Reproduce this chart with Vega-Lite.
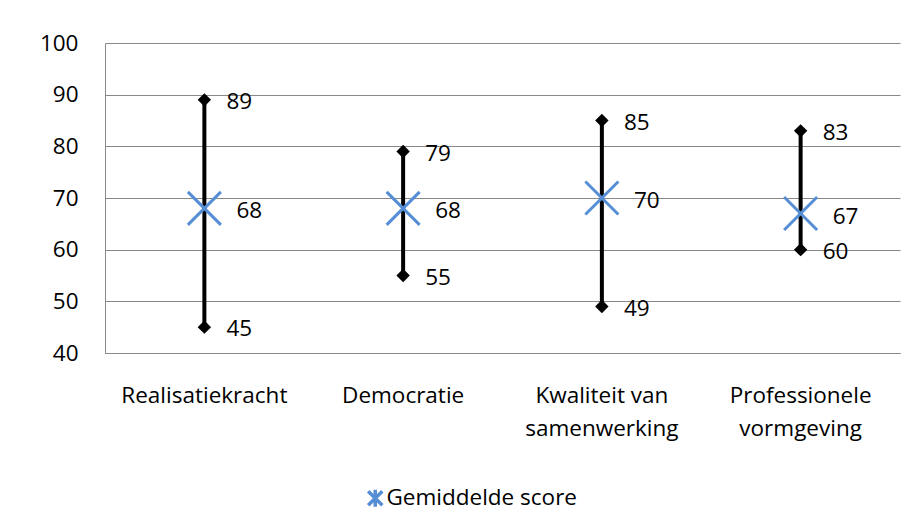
{
  "$schema": "https://vega.github.io/schema/vega-lite/v6.json",
  "autosize": "none",
  "width": 795,
  "height": 310,
  "padding": {"left": 105, "top": 43, "right": 15, "bottom": 175},
  "background": "white",
  "config": {
    "font": "Open Sans",
    "view": {"stroke": null},
    "axis": {"labelFont": "Open Sans", "labelColor": "#000000", "labelFontSize": 22.5, "labelLimit": 400}
  },
  "data": {
    "values": [
      {"category": "Realisatiekracht", "high": 89, "low": 45, "mean": 68, "series": "Gemiddelde score"},
      {"category": "Democratie", "high": 79, "low": 55, "mean": 68, "series": "Gemiddelde score"},
      {"category": "Kwaliteit van samenwerking", "high": 85, "low": 49, "mean": 70, "series": "Gemiddelde score"},
      {"category": "Professionele vormgeving", "high": 83, "low": 60, "mean": 67, "series": "Gemiddelde score"}
    ]
  },
  "encoding": {
    "x": {
      "field": "category",
      "type": "nominal",
      "sort": null,
      "scale": {"paddingInner": 0, "paddingOuter": 0},
      "axis": {
        "title": null,
        "labelAngle": 0,
        "ticks": false,
        "domain": true,
        "domainColor": "#888888",
        "labelPadding": 31,
        "labelLineHeight": 33,
        "labelBaseline": "top",
        "labelExpr": "datum.value == 'Kwaliteit van samenwerking' ? ['Kwaliteit van', 'samenwerking'] : datum.value == 'Professionele vormgeving' ? ['Professionele', 'vormgeving'] : datum.value"
      }
    }
  },
  "layer": [
    {
      "mark": {"type": "rule", "color": "#000000", "strokeWidth": 4},
      "encoding": {
        "y": {
          "field": "low",
          "type": "quantitative",
          "scale": {"domain": [40, 100], "nice": false, "zero": false},
          "axis": {
            "title": null,
            "values": [40, 50, 60, 70, 80, 90, 100],
            "grid": true,
            "gridColor": "#888888",
            "gridWidth": 1,
            "ticks": false,
            "domain": true,
            "domainColor": "#888888",
            "labelPadding": 27
          }
        },
        "y2": {"field": "high"}
      }
    },
    {
      "transform": [{"fold": ["high", "low"], "as": ["kind", "value"]}],
      "mark": {"type": "point", "shape": "diamond", "filled": true, "size": 180, "color": "#000000", "opacity": 1},
      "encoding": {
        "y": {"field": "value", "type": "quantitative"}
      }
    },
    {
      "transform": [{"fold": ["high", "low"], "as": ["kind", "value"]}],
      "mark": {"type": "text", "align": "left", "baseline": "middle", "dx": 22, "dy": 2, "fontSize": 22.5, "color": "#000000"},
      "encoding": {
        "y": {"field": "value", "type": "quantitative"},
        "text": {"field": "value", "type": "quantitative"}
      }
    },
    {
      "mark": {"type": "point", "shape": "M-1,-1L1,1M-1,1L1,-1", "filled": false, "size": 1089, "strokeWidth": 3, "opacity": 1},
      "encoding": {
        "y": {"field": "mean", "type": "quantitative"},
        "color": {
          "field": "series",
          "type": "nominal",
          "scale": {"range": ["#558ED5"]},
          "legend": {
            "title": null,
            "orient": "none",
            "legendX": 259,
            "legendY": 444,
            "padding": 0,
            "symbolType": "M-1,-1L1,1M-1,1L1,-1M0,-1.2L0,1.2",
            "symbolSize": 200,
            "symbolStrokeWidth": 3.5,
            "symbolFillColor": "#558ED5",
            "labelFontSize": 22.5,
            "labelFont": "Open Sans",
            "labelColor": "#000000",
            "labelLimit": 400,
            "labelOffset": 0
          }
        }
      }
    },
    {
      "mark": {"type": "text", "align": "left", "baseline": "middle", "dx": 32, "dy": 3, "fontSize": 22.5, "color": "#000000"},
      "encoding": {
        "y": {"field": "mean", "type": "quantitative"},
        "text": {"field": "mean", "type": "quantitative"}
      }
    }
  ]
}
